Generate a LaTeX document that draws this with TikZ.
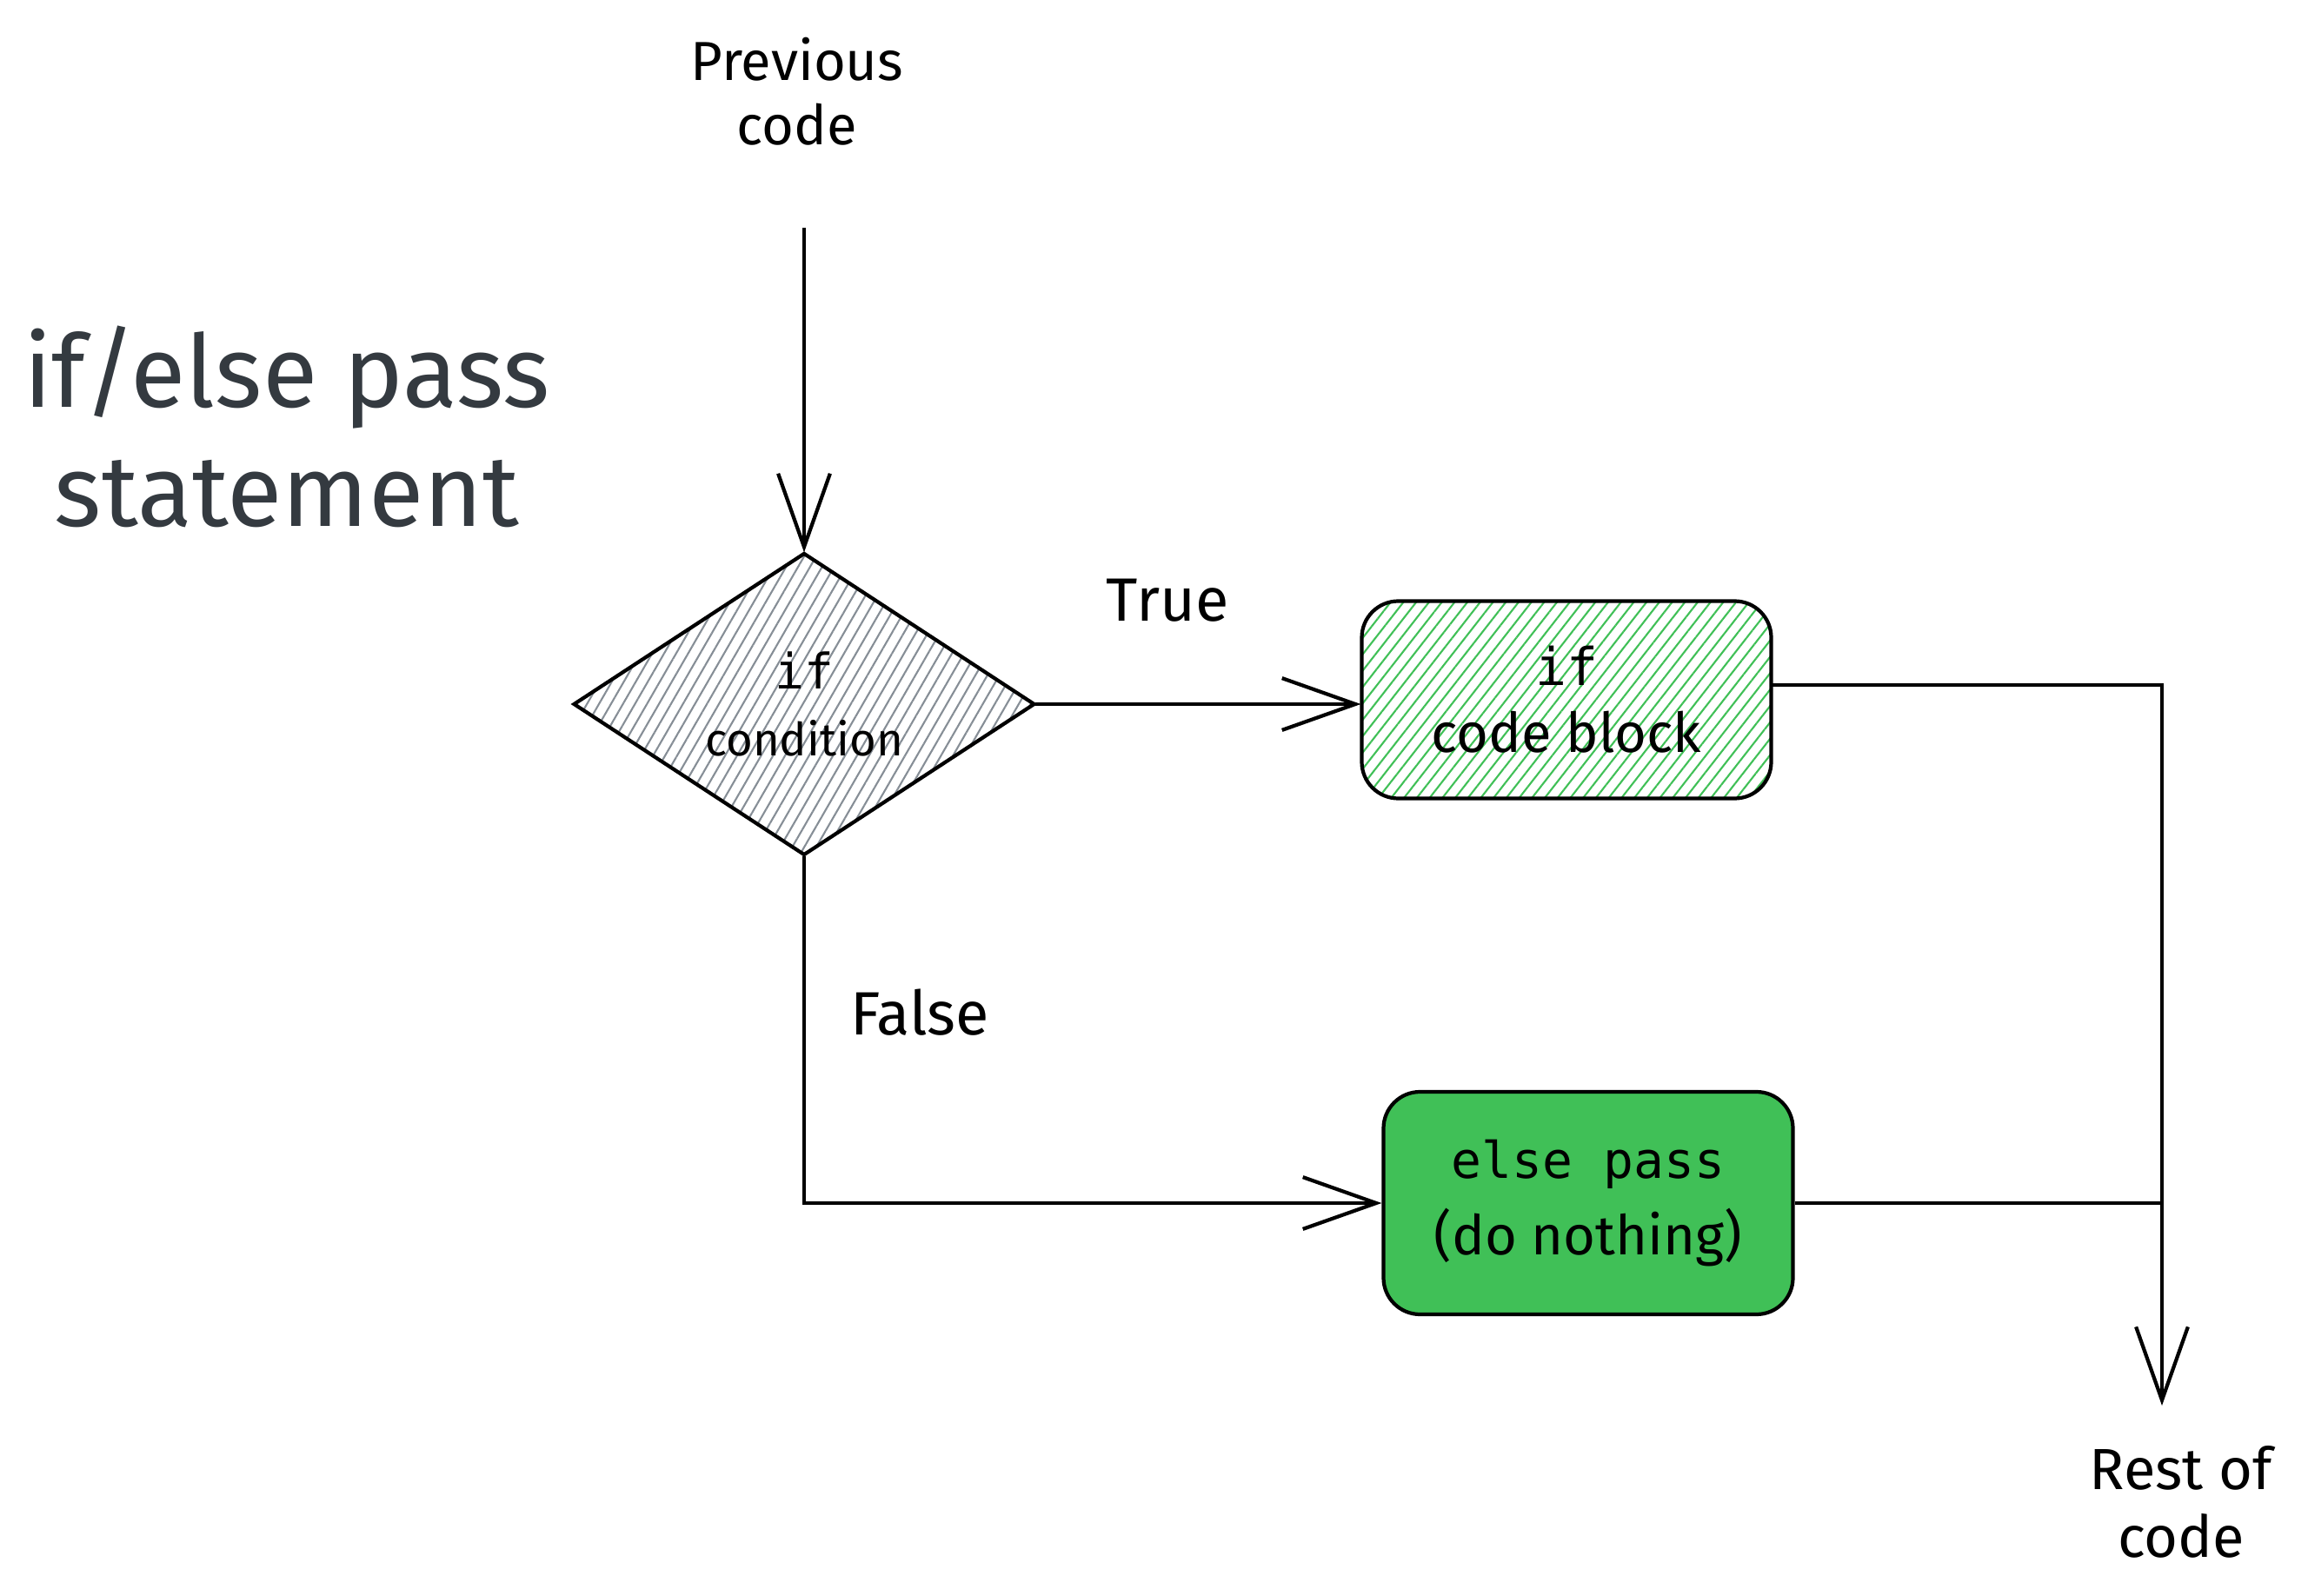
\documentclass[tikz,border=0pt]{standalone}
\usepackage{fontspec}
\setmainfont{Fira Sans}
\newfontfamily\monofont{DejaVu Sans Mono}
\usetikzlibrary{shapes.geometric,arrows.meta,patterns.meta,positioning}
\definecolor{hatchgray}{HTML}{868E96}
\definecolor{codegreen}{HTML}{40C057}
\definecolor{titlegray}{HTML}{343A40}

\begin{document}
\begin{tikzpicture}[line width=1.2pt,
  >={Straight Barb[length=24pt,width=17pt]},
  decision/.style={draw, diamond, aspect=1.5, minimum width=5.3cm, minimum height=3.47cm,
    inner sep=0pt, align=center, font=\fontsize{15}{22}\selectfont,
    pattern={Lines[angle=60,distance=3.4pt,line width=0.6pt]}, pattern color=hatchgray},
  block/.style={draw, rounded corners=0.42cm, minimum width=4.71cm, align=center},
  note/.style={align=center, font=\fontsize{18}{21}\selectfont},
  lbl/.style={font=\fontsize{20}{24}\selectfont}]
\useasboundingbox (0,0) rectangle (26.55,-18.36);

% title
\node[align=center, text=titlegray, font=\fontsize{33}{39}\selectfont] (title) at (3.3,-4.91) {if/else pass\\statement};

% flow nodes
\node[note] (prev) at (9.17,-1.05) {Previous\\code};
\coordinate (start) at (9.25,-2.62);
\node[decision] (cond) at (9.25,-8.1) {{\monofont\fontsize{16}{22}\selectfont if}\\condition};
\node[block, minimum height=2.27cm, font=\fontsize{18}{22}\selectfont,
  pattern={Lines[angle=52,distance=3.3pt,line width=0.6pt]}, pattern color=codegreen]
  (ifblk) at (18.02,-8.05) {{\monofont\fontsize{17}{22}\selectfont if}\\code block};
\node[block, minimum height=2.56cm, fill=codegreen, font=\fontsize{18}{25}\selectfont]
  (elseblk) at (18.27,-13.84) {{\monofont\fontsize{16.5}{25}\selectfont else pass}\\(do nothing)};
\coordinate (stop) at (24.87,-16.17);
\node[note, font=\fontsize{19}{22}\selectfont] (rest) at (25.09,-17.28) {Rest of\\code};

% labels
\node[lbl] (truelbl) at (13.43,-6.91) {True};
\node[lbl] (falselbl) at (10.58,-11.65) {False};

% connectors
\path[draw,->] (start) -- (cond.north);
\path[draw,->] (cond.east) -- (cond.east -| ifblk.west);
\path[draw,->] (cond.south) |- (elseblk.west);
\path[draw,->] ([yshift=0.17cm]ifblk.east) -| (stop);
\path[draw] (elseblk.east) -- (elseblk.east -| stop);
\end{tikzpicture}
\end{document}
